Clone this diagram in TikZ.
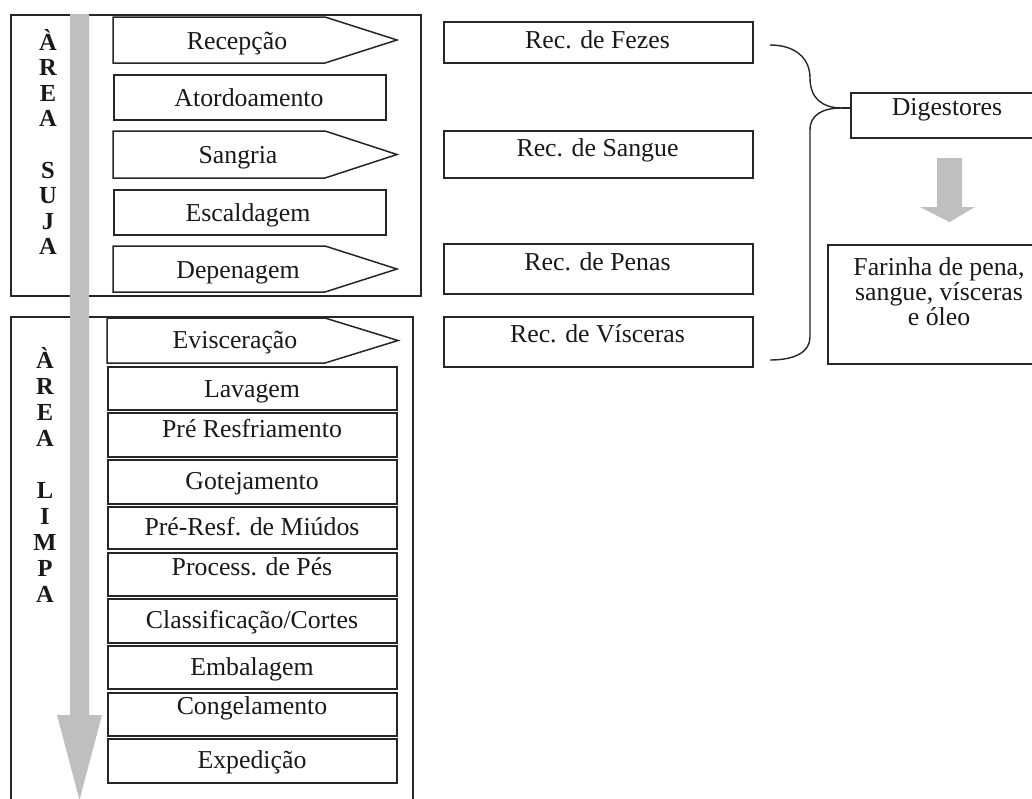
\documentclass[tikz,border=0pt]{standalone}
\usepackage{fontspec}
\setmainfont{Liberation Serif}
\usetikzlibrary{calc}
\newcommand\mypent[4]{\draw[ln] (#1,#2) -- (325,#2) -- (#4,{(#2+#3)/2}) -- (325,#3) -- (#1,#3) -- cycle;}
\begin{document}
\begin{tikzpicture}[x=1pt,y=-1pt,
  ln/.style={draw=black!85, line width=1.5pt},
  frame/.style={ln, rectangle, inner sep=0pt, anchor=north west},
  lbl/.style={anchor=base, inner sep=0pt, font=\fontsize{25.8}{30}\selectfont, text=black!90},
  letter/.style={anchor=base, inner sep=0pt, font=\fontsize{24.5}{26}\selectfont\bfseries, text=black!90},
  grayfill/.style={fill=black!25, draw=none}]
\useasboundingbox (0,0) rectangle (1032,798);
\clip (0,0) rectangle (1032,798);
\fill[white] (0,0) rectangle (1032,798);

% area frames
\node[frame, minimum width=410pt, minimum height=281pt] (suja) at (10,14) {};
\node[frame, minimum width=402pt, minimum height=500pt] (limpa) at (10,316) {};

% area suja steps
\mypent{113}{17}{63}{397}
\node[frame, minimum width=272pt, minimum height=45pt] (ator) at (113,74) {};
\mypent{113}{131}{178}{397}
\node[frame, minimum width=272pt, minimum height=45pt] (escal) at (113,189) {};
\mypent{113}{246}{292}{397}

\node[lbl] (trec) at (237,49) {Recepção};
\node[lbl] (tator) at (249,106) {Atordoamento};
\node[lbl] (tsang) at (238,163) {Sangria};
\node[lbl] (tescal) at (248,221) {Escaldagem};
\node[lbl] (tdepe) at (238,278) {Depenagem};

% area limpa steps
\mypent{107}{318}{363}{398}
\node[frame, minimum width=289pt, minimum height=43pt] (lav) at (107,366) {};
\node[frame, minimum width=289pt, minimum height=44pt] (pres) at (107,412) {};
\node[frame, minimum width=289pt, minimum height=44pt] (got) at (107,459) {};
\node[frame, minimum width=289pt, minimum height=42pt] (mid) at (107,506) {};
\node[frame, minimum width=289pt, minimum height=43pt] (pes) at (107,552) {};
\node[frame, minimum width=289pt, minimum height=44pt] (cla) at (107,598) {};
\node[frame, minimum width=289pt, minimum height=43pt] (emb) at (107,645) {};
\node[frame, minimum width=289pt, minimum height=43pt] (cong) at (107,692) {};
\node[frame, minimum width=289pt, minimum height=44pt] (exp) at (107,738) {};

\node[lbl] (tevi) at (235,348) {Evisceração};
\node[lbl] (tlav) at (252,397) {Lavagem};
\node[lbl] (tpres) at (252,437) {Pré Resfriamento};
\node[lbl] (tgot) at (252,489) {Gotejamento};
\node[lbl] (tmid) at (252,535) {Pré-Resf. de Miúdos};
\node[lbl] (tpes) at (252,575) {Process. de Pés};
\node[lbl] (tcla) at (252,628) {Classificação/Cortes};
\node[lbl] (temb) at (252,675) {Embalagem};
\node[lbl] (tcong) at (252,714) {Congelamento};
\node[lbl] (texp) at (252,768) {Expedição};

% gray flow arrow
\fill[grayfill] (70,14) -- (89,14) -- (89,715) -- (102,715) -- (79.5,800) -- (57,715) -- (70,715) -- cycle;

% vertical labels
\foreach \c/\k in {À/0,R/1,E/2,A/3,S/5,U/6,J/7,A/8}
  \node[letter] (s\k) at (48,{50+25.6*\k}) {\c};
\foreach \c/\k in {À/0,R/1,E/2,A/3,L/5,I/6,M/7,P/8,A/9}
  \node[letter] (l\k) at (45,{368+26*\k}) {\c};

% by-product boxes
\node[frame, minimum width=309pt, minimum height=41pt] (fez) at (443,21) {};
\node[frame, minimum width=309pt, minimum height=47pt] (san) at (443,130) {};
\node[frame, minimum width=309pt, minimum height=50pt] (pen) at (443,243) {};
\node[frame, minimum width=309pt, minimum height=50pt] (vis) at (443,316) {};
\node[lbl] (tfez) at (597.5,48) {Rec. de Fezes};
\node[lbl] (tsan) at (597.5,156) {Rec. de Sangue};
\node[lbl] (tpen) at (597.5,270) {Rec. de Penas};
\node[lbl] (tvis) at (597.5,342) {Rec. de Vísceras};

% digestores
\node[frame, minimum width=194pt, minimum height=45pt] (dig) at (850,92) {};
\node[lbl] (tdig) at (947,115) {Digestores};
\node[frame, minimum width=226pt, minimum height=119pt] (far) at (827,244) {};
\node[lbl] (tfar1) at (939,275) {Farinha de pena,};
\node[lbl] (tfar2) at (939,300) {sangue, vísceras};
\node[lbl] (tfar3) at (939,325) {e óleo};
\fill[grayfill] (937,158) -- (962,158) -- (962,207) -- (975,207) -- (949.5,222) -- (920,207) -- (937,207) -- cycle;

% brace
\coordinate (btop) at (770,45);
\coordinate (bbot) at (770,360);
\coordinate (btip) at (842,108);
\draw[ln, line width=1.4pt] (btop) .. controls (795,45) and (810,58) .. (810,78)
   .. controls (810,98) and (822,108) .. (btip);
\draw[ln, line width=1.4pt] (btip) .. controls (822,108) and (810,115) .. (810,130)
   -- (810,337) .. controls (810,352) and (795,360) .. (bbot);
\draw[ln, line width=2pt] (btip) -- (dig.west |- btip);
\end{tikzpicture}
\end{document}
